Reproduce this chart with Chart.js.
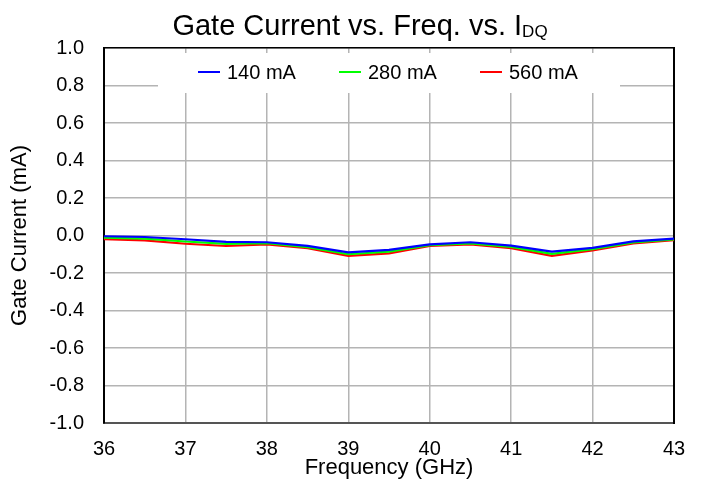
<!DOCTYPE html>
<html>
<head>
<meta charset="utf-8">
<script src="https://cdn.jsdelivr.net/npm/chart.js@4.4.1/dist/chart.umd.min.js"></script>
<style>
  html, body { margin: 0; padding: 0; background: #fff; }
  #wrap { width: 702px; height: 485px; }
</style>
</head>
<body>
<div id="wrap"><canvas id="gateChart" width="702" height="485"></canvas></div>
<script>
// frequency points (GHz)
const freqs = [36, 36.5, 37, 37.5, 38, 38.5, 39, 39.5, 40, 40.5, 41, 41.5, 42, 42.5, 43];
// gate current (mA) per quiescent current
const ig140 = [-0.004, -0.008, -0.020, -0.034, -0.036, -0.055, -0.090, -0.077, -0.047, -0.036, -0.054, -0.086, -0.066, -0.031, -0.017];
const ig280 = [-0.011, -0.017, -0.032, -0.045, -0.041, -0.062, -0.100, -0.086, -0.052, -0.042, -0.061, -0.098, -0.073, -0.037, -0.021];
const ig560 = [-0.019, -0.026, -0.044, -0.056, -0.047, -0.068, -0.109, -0.095, -0.056, -0.047, -0.068, -0.109, -0.079, -0.042, -0.025];
const seriesNames = ['140 mA', '280 mA', '560 mA'];
const seriesColors = ['#0000ff', '#00ff00', '#ff0000'];

const FONT = '"Liberation Sans", Arial, sans-serif';

// title with subscript + legend box inside the plot
const decor = {
    id: 'decor',
    afterDatasetsDraw(chart) {
        const c = chart.ctx;
        const area = chart.chartArea;
        c.save();
        // legend box
        c.fillStyle = '#fff';
        c.fillRect(158, area.top + 5, 462, 40);
        c.font = '20px ' + FONT;
        c.textBaseline = 'middle';
        const xs = [198, 339, 480];
        chart.data.datasets.forEach((ds, i) => {
            const y = area.top + 24;
            c.strokeStyle = ds.borderColor;
            c.lineWidth = 2;
            c.beginPath();
            c.moveTo(xs[i], y);
            c.lineTo(xs[i] + 22, y);
            c.stroke();
            c.fillStyle = '#000';
            c.textAlign = 'left';
            c.fillText(ds.label, xs[i] + 29, y + 1);
        });
        // title
        const main = 'Gate Current vs. Freq. vs. I';
        c.font = '29px ' + FONT;
        const w1 = c.measureText(main).width;
        c.font = '17px ' + FONT;
        const w2 = c.measureText('DQ').width;
        let x = 360 - (w1 + w2) / 2;
        c.fillStyle = '#000';
        c.textAlign = 'left';
        c.textBaseline = 'alphabetic';
        c.font = '29px ' + FONT;
        c.fillText(main, x, 35);
        c.font = '17px ' + FONT;
        c.fillText('DQ', x + w1, 37);
        c.restore();
    }
};

const ctx = document.getElementById('gateChart').getContext('2d');
new Chart(ctx, {
    type: 'line',
    data: {
        datasets: [ig140, ig280, ig560].map((vals, i) => ({
            label: seriesNames[i],
            data: freqs.map((f, j) => ({ x: f, y: vals[j] })),
            borderColor: seriesColors[i],
            borderWidth: 2.2,
            pointRadius: 0,
            tension: 0,
            fill: false
        }))
    },
    options: {
        responsive: false,
        animation: false,
        layout: { padding: { top: 48, right: 28, left: 0, bottom: 0 } },
        plugins: {
            legend: { display: false },
            title: { display: false },
            tooltip: { enabled: false }
        },
        scales: {
            x: {
                type: 'linear',
                min: 36,
                max: 43,
                afterFit: s => { s.height = 62; },
                ticks: {
                    stepSize: 1,
                    color: '#000',
                    padding: 14,
                    font: { family: FONT, size: 20 },
                    callback: v => v
                },
                grid: { color: '#b4b4b4', lineWidth: 1.5, drawTicks: false },
                border: { color: '#555', width: 2 },
                title: {
                    display: true,
                    text: 'Frequency (GHz)',
                    color: '#000',
                    font: { family: FONT, size: 22 },
                    padding: { top: 0, bottom: 4 }
                }
            },
            y: {
                min: -1,
                max: 1,
                afterFit: s => { s.width = 104; },
                ticks: {
                    stepSize: 0.2,
                    color: '#000',
                    padding: 20,
                    font: { family: FONT, size: 20 },
                    callback: v => v.toFixed(1)
                },
                grid: { color: '#b4b4b4', lineWidth: 1.5, drawTicks: false },
                border: { color: '#000', width: 2 },
                title: {
                    display: true,
                    text: 'Gate Current (mA)',
                    color: '#000',
                    font: { family: FONT, size: 22 },
                    padding: { top: 7, bottom: 0 }
                }
            },
            y2: {
                position: 'right',
                min: -1,
                max: 1,
                afterFit: s => { s.width = 0; },
                ticks: { display: false },
                grid: { display: false, drawTicks: false },
                border: { color: '#000', width: 2 }
            },
            x2: {
                type: 'linear',
                position: 'top',
                min: 36,
                max: 43,
                afterFit: s => { s.height = 0; },
                ticks: { display: false },
                grid: { display: false, drawTicks: false },
                border: { color: '#000', width: 1.5 }
            }
        }
    },
    plugins: [decor]
});
</script>
</body>
</html>
